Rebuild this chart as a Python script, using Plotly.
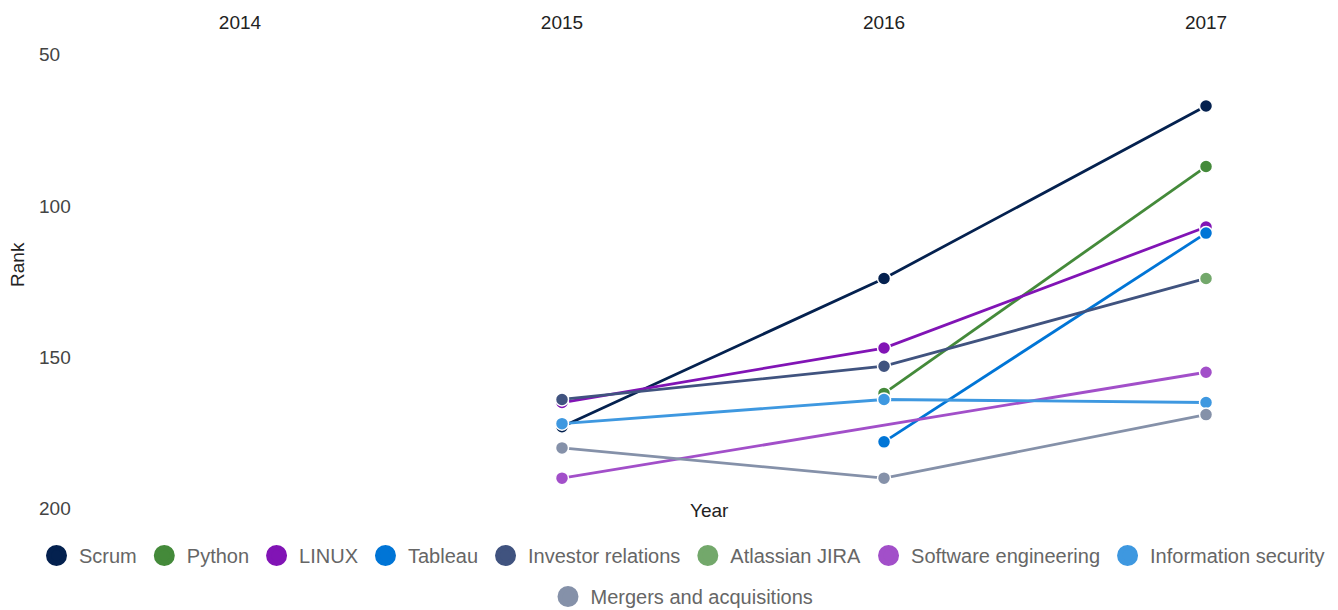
import plotly.graph_objects as go

years = [2014, 2015, 2016, 2017]

skills = ["Scrum", "Python", "LINUX", "Tableau", "Investor relations",
          "Atlassian JIRA", "Software engineering", "Information security",
          "Mergers and acquisitions"]

# rank per year (None = not ranked that year)
scrum = [None, 173, 124, 67]
python = [None, None, 162, 87]
linux = [None, 165, 147, 107]
tableau = [None, None, 178, 109]
investor = [None, 164, 153, 124]
jira = [None, None, None, 124]
software = [None, 190, None, 155]
infosec = [None, 172, 164, 165]
mergers = [None, 180, 190, 169]

colors = ["#04214f", "#448a3a", "#8114b5", "#0075d6", "#40537f",
          "#73a86b", "#a24fc9", "#3e98e0", "#8591a9"]

ranks = [scrum, python, linux, tableau, investor, jira, software, infosec, mergers]

# figure sits 8px in from the page edge (body margin)
W, H = 1330, 602
L, R = 28, 8
# y range padded by 4.5 units so the 50/200 inside labels are not clipped
T, B = 33.4, H - 513.6
plot_w = W - L - R
plot_h = H - T - B

fig = go.Figure()
for i, (name, vals, col) in enumerate(zip(skills, ranks, colors)):
    xs = [y for y, v in zip(years, vals) if v is not None]
    ys = [v for v in vals if v is not None]
    fig.add_trace(go.Scatter(
        x=xs, y=ys, mode="lines+markers", name=name, showlegend=False,
        line=dict(color=col, width=2.8),
        marker=dict(size=13, color=col, line=dict(color="white", width=1.5)),
    ))
    # legend-only entry with a plain circle
    fig.add_trace(go.Scatter(
        x=[None], y=[None], mode="markers", name=name,
        legend="legend2" if i == 8 else "legend",
        marker=dict(size=16, color=col, line=dict(color=col, width=5)),
    ))

leg_common = dict(orientation="h", xanchor="center", yanchor="middle",
                  font=dict(size=20, color="#666"), itemsizing="trace",
                  itemwidth=35, traceorder="normal", bgcolor="rgba(0,0,0,0)")
leg_x = (674 - L) / plot_w

fig.update_layout(
    width=W, height=H,
    margin=dict(l=L, r=R, t=T, b=B, autoexpand=False),
    plot_bgcolor="white", paper_bgcolor="white",
    font=dict(family="Liberation Sans, Arial, sans-serif", size=19, color="#222"),
    showlegend=True,
    legend=dict(x=leg_x, y=(513.6 - 547) / plot_h, **leg_common),
    legend2=dict(x=leg_x, y=(513.6 - 588) / plot_h, **leg_common),
    xaxis=dict(side="top", range=[2013.3665, 2017.385], tickvals=years,
               ticktext=[str(y) for y in years], showgrid=False, zeroline=False,
               showline=False, ticks="", ticklabelstandoff=7),
    yaxis=dict(range=[204.5, 45.5], tickvals=[50, 100, 150, 200], showgrid=False,
               zeroline=False, showline=False, ticks="",
               ticklabelposition="inside"),
    annotations=[
        dict(text="Year", x=(702 - L) / plot_w, y=(513.6 - 502) / plot_h,
             xref="paper", yref="paper", showarrow=False,
             xanchor="center", yanchor="middle"),
        dict(text="Rank", x=-18 / plot_w, y=(513.6 - 257) / plot_h,
             xref="paper", yref="paper", showarrow=False, textangle=-90,
             xanchor="center", yanchor="middle"),
    ],
)

fig.write_html("out.html")
